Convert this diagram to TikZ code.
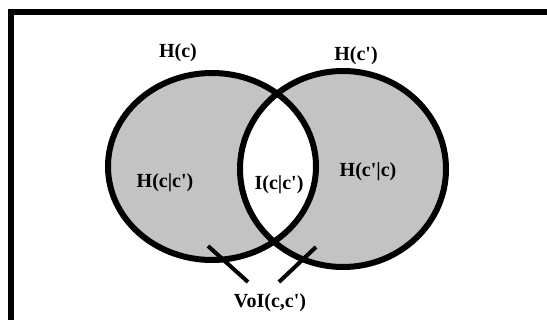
\documentclass[tikz,border=0pt]{standalone}
\usepackage{fontspec}
\setmainfont{Liberation Serif}
\usepackage{tikz}
\usetikzlibrary{positioning}
\definecolor{setgray}{RGB}{195,195,195}
\newcommand{\pr}{\textquotesingle}

\begin{document}
\begin{tikzpicture}[x=1pt, y=-1pt,
  lab/.style={font=\fontsize{20}{24}\selectfont\bfseries, inner sep=0pt},
  rim/.style={line width=6pt}, tick/.style={line width=4pt}]
\clip (0,0) rectangle (547,320);
\fill[white] (0,0) rectangle (547,320);
% outer frame, running off the right and bottom edges
\draw[line width=6pt] (11,340) -- (11,12.5) -- (570,12.5);
% the two sets
\fill[setgray] (212,166.5) ellipse [x radius=104pt, y radius=93.5pt];
\fill[setgray] (343,169) ellipse [x radius=103pt, y radius=98pt];
\begin{scope}
  \clip (212,166.5) ellipse [x radius=104pt, y radius=93.5pt];
  \fill[white] (343,169) ellipse [x radius=103pt, y radius=98pt];
\end{scope}
\draw[rim] (212,166.5) ellipse [x radius=104pt, y radius=93.5pt];
\draw[rim] (343,169) ellipse [x radius=103pt, y radius=98pt];
% labels
\node[lab] (hc) at (178,53) {H(c)};
\node[lab] (hcp) at (356,56) {H(c\pr)};
\node[lab] (hcgcp) at (165,183) {H(c|c\pr)};
\node[lab] (icgcp) at (279,185) {I(c|c\pr)};
\node[lab] (hcpgc) at (368,172) {H(c\pr|c)};
\node[lab] (voi) at (270,303) {VoI(c,c\pr)};
% strokes pointing at the two grey parts
\coordinate (lt) at (208,246); \coordinate (lb) at (248,282);
\coordinate (rt) at (316,247); \coordinate (rb) at (279,282);
\draw[tick] (lt) -- (lb);
\draw[tick] (rt) -- (rb);
\end{tikzpicture}
\end{document}
